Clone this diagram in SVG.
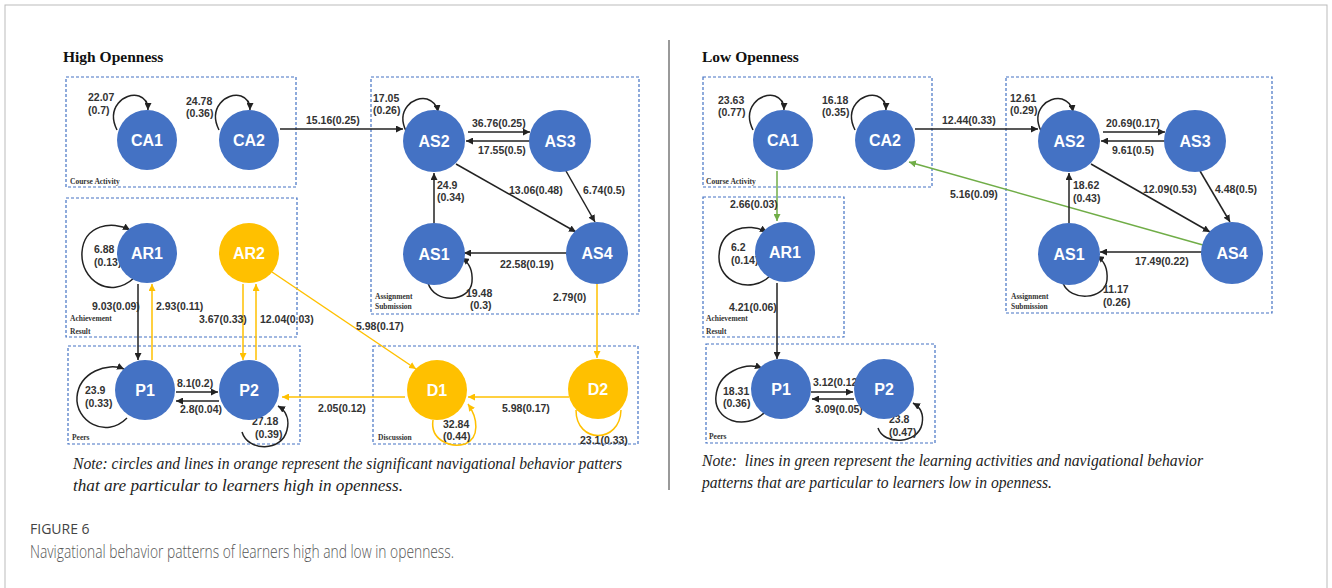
<svg xmlns="http://www.w3.org/2000/svg" width="1332" height="588" viewBox="0 0 1332 588">
<defs>
<marker id="ak" viewBox="0 0 8 8" refX="8" refY="4" markerWidth="7" markerHeight="7" markerUnits="userSpaceOnUse" orient="auto"><path d="M0,0 L8,4 L0,8 z" fill="#222"/></marker>
<marker id="ao" viewBox="0 0 8 8" refX="8" refY="4" markerWidth="7" markerHeight="7" markerUnits="userSpaceOnUse" orient="auto"><path d="M0,0 L8,4 L0,8 z" fill="#FFC000"/></marker>
<marker id="ag" viewBox="0 0 8 8" refX="8" refY="4" markerWidth="7" markerHeight="7" markerUnits="userSpaceOnUse" orient="auto"><path d="M0,0 L8,4 L0,8 z" fill="#70AD47"/></marker>
</defs>
<style>
.box{fill:none;stroke:#4472C4;stroke-width:1.2;stroke-dasharray:3,2}
.bl{fill:#4472C4}
.or{fill:#FFC000}
.nl{font-family:"Liberation Sans",Arial,sans-serif;font-size:16px;font-weight:bold;fill:#fff;text-anchor:middle}
.el{font-family:"Liberation Sans",Arial,sans-serif;font-size:10.5px;font-weight:bold;fill:#333}
.bx{font-family:"Liberation Serif","Times New Roman",serif;font-size:7.5px;font-weight:bold;fill:#333}
.ti{font-family:"Liberation Serif","Times New Roman",serif;font-size:15.5px;font-weight:bold;fill:#111}
.nt{font-family:"Liberation Serif","Times New Roman",serif;font-size:16px;font-style:italic;fill:#222;white-space:pre}
.k{fill:none;stroke:#222;stroke-width:1.5;marker-end:url(#ak)}
.o{fill:none;stroke:#FFC000;stroke-width:1.5;marker-end:url(#ao)}
.g{fill:none;stroke:#70AD47;stroke-width:1.5;marker-end:url(#ag)}
</style>
<rect x="5" y="5" width="1322" height="600" fill="#fff" stroke="#bbb" stroke-width="1"/>
<line x1="669" y1="40" x2="669" y2="490" stroke="#999" stroke-width="2"/>

<!-- LEFT PANEL -->
<text class="ti" x="63" y="62">High Openness</text>
<g id="L-boxes">
<rect class="box" x="66" y="77" width="230" height="110"/>
<text class="bx" x="70" y="184">Course Activity</text>
<rect class="box" x="371" y="77" width="268" height="237"/>
<text class="bx" x="375" y="299">Assignment</text>
<text class="bx" x="375" y="309">Submission</text>
<rect class="box" x="66" y="198" width="231" height="139"/>
<text class="bx" x="70" y="321">Achievement</text>
<text class="bx" x="70" y="334">Result</text>
<rect class="box" x="68" y="346" width="232" height="98"/>
<text class="bx" x="72" y="440">Peers</text>
<rect class="box" x="373" y="346" width="265" height="98"/>
<text class="bx" x="378" y="440">Discussion</text>
</g>

<g id="L-connectors">
<path class="k" d="M117,130 C106,108 124,92 139,96 C145,98 148,103 148,110"/>
<path class="k" d="M219,130 C208,108 226,92 241,96 C247,98 250,103 250,110"/>
<path class="k" d="M406,131 C396,110 413,96 427,99 C433,101 437,105 438,112"/>
<path class="k" d="M134,278 C110,300 80,280 82,252 C84,225 112,220 130,230"/>
<path class="k" d="M428,283 C435,305 470,302 472,282 C473,270 468,262 462,258"/>
<path class="k" d="M127,418 C105,440 75,420 77,397 C79,372 108,362 124,369"/>
<path class="k" d="M242,432 C248,452 282,452 287,430 C290,418 285,410 278,406"/>
<path class="o" d="M433,420 C430,440 450,448 465,444 C480,438 478,418 468,404"/>
<path fill="none" stroke="#FFC000" stroke-width="1.5" d="M576,410 C576,444 620,444 621,410"/>
<path class="k" d="M280,129 L403,129"/>
<path class="k" d="M468,132 L530,132"/>
<path class="k" d="M530,141 L466,141"/>
<path class="k" d="M434,223 L434,173"/>
<path class="k" d="M456,164 L576,232"/>
<path class="k" d="M566,171 L595,222"/>
<path class="k" d="M567,253 L464,253"/>
<path class="o" d="M597,284 L597,358"/>
<path class="k" d="M138,284 L138,360"/>
<path class="o" d="M152,360 L152,284"/>
<path class="o" d="M243,284 L243,360"/>
<path class="o" d="M256,360 L256,284"/>
<path class="o" d="M272,272 L416,369"/>
<path class="k" d="M176,392 L218,392"/>
<path class="k" d="M219,401 L176,401"/>
<path class="o" d="M405,397 L282,397"/>
<path class="o" d="M569,397 L468,397"/>
</g>

<g id="L-labels">
<text class="el" x="88" y="101">22.07</text><text class="el" x="88" y="114">(0.7)</text>
<text class="el" x="186" y="105">24.78</text><text class="el" x="186" y="117">(0.36)</text>
<text class="el" x="306" y="124">15.16(0.25)</text>
<text class="el" x="373" y="102">17.05</text><text class="el" x="373" y="114">(0.26)</text>
<text class="el" x="472" y="127">36.76(0.25)</text>
<text class="el" x="478" y="154">17.55(0.5)</text>
<text class="el" x="437" y="189">24.9</text><text class="el" x="437" y="201">(0.34)</text>
<text class="el" x="509" y="194">13.06(0.48)</text>
<text class="el" x="583" y="194">6.74(0.5)</text>
<text class="el" x="500" y="268">22.58(0.19)</text>
<text class="el" x="466" y="297">19.48</text><text class="el" x="470" y="309">(0.3)</text>
<text class="el" x="553" y="301">2.79(0)</text>
<text class="el" x="94" y="253">6.88</text><text class="el" x="94" y="266">(0.13)</text>
<text class="el" x="92" y="310">9.03(0.09)</text>
<text class="el" x="156" y="310">2.93(0.11)</text>
<text class="el" x="199" y="323">3.67(0.33)</text>
<text class="el" x="260" y="323">12.04(0.03)</text>
<text class="el" x="356" y="330">5.98(0.17)</text>
<text class="el" x="177" y="387">8.1(0.2)</text>
<text class="el" x="180" y="413">2.8(0.04)</text>
<text class="el" x="85" y="394">23.9</text><text class="el" x="85" y="407">(0.33)</text>
<text class="el" x="252" y="425">27.18</text><text class="el" x="255" y="438">(0.39)</text>
<text class="el" x="318" y="412">2.05(0.12)</text>
<text class="el" x="502" y="412">5.98(0.17)</text>
<text class="el" x="443" y="428">32.84</text><text class="el" x="443" y="440">(0.44)</text>
<text class="el" x="580" y="444">23.1(0.33)</text>
</g>

<g id="L-CA1"><circle class="bl" cx="147" cy="140" r="30"/><text class="nl" x="147" y="146">CA1</text></g>
<g id="L-CA2"><circle class="bl" cx="249" cy="140" r="30"/><text class="nl" x="249" y="146">CA2</text></g>
<g id="L-AS2"><circle class="bl" cx="434" cy="141" r="31"/><text class="nl" x="434" y="147">AS2</text></g>
<g id="L-AS3"><circle class="bl" cx="560" cy="141" r="31"/><text class="nl" x="560" y="147">AS3</text></g>
<g id="L-AS1"><circle class="bl" cx="434" cy="254" r="31"/><text class="nl" x="434" y="260">AS1</text></g>
<g id="L-AS4"><circle class="bl" cx="597" cy="253" r="31"/><text class="nl" x="597" y="259">AS4</text></g>
<g id="L-AR1"><circle class="bl" cx="147" cy="253" r="30"/><text class="nl" x="147" y="259">AR1</text></g>
<g id="L-AR2"><circle class="or" cx="249" cy="253" r="30"/><text class="nl" x="249" y="259">AR2</text></g>
<g id="L-P1"><circle class="bl" cx="145" cy="390" r="30"/><text class="nl" x="145" y="396">P1</text></g>
<g id="L-P2"><circle class="bl" cx="249" cy="390" r="30"/><text class="nl" x="249" y="396">P2</text></g>
<g id="L-D1"><circle class="or" cx="437" cy="390" r="30"/><text class="nl" x="437" y="396">D1</text></g>
<g id="L-D2"><circle class="or" cx="598" cy="389" r="30"/><text class="nl" x="598" y="395">D2</text></g>

<text class="nt" x="73" y="469" textLength="549" lengthAdjust="spacingAndGlyphs">Note: circles and lines in orange represent the significant navigational behavior patters</text>
<text class="nt" x="73" y="491" textLength="330" lengthAdjust="spacingAndGlyphs">that are particular to learners high in openness.</text>

<!-- RIGHT PANEL -->
<text class="ti" x="702" y="62">Low Openness</text>
<g id="R-boxes">
<rect class="box" x="703" y="77" width="229" height="110"/>
<text class="bx" x="706" y="184">Course Activity</text>
<rect class="box" x="1006" y="77" width="266" height="236"/>
<text class="bx" x="1011" y="299">Assignment</text>
<text class="bx" x="1011" y="309">Submission</text>
<rect class="box" x="703" y="197" width="141" height="140"/>
<text class="bx" x="706" y="321">Achievement</text>
<text class="bx" x="706" y="334">Result</text>
<rect class="box" x="706" y="344" width="229" height="99"/>
<text class="bx" x="709" y="439">Peers</text>
</g>

<g id="R-connectors">
<path class="k" d="M753,130 C742,108 760,92 775,96 C781,98 784,103 784,110"/>
<path class="k" d="M855,130 C844,108 862,92 877,96 C883,98 886,103 886,110"/>
<path class="k" d="M1041,131 C1031,110 1048,96 1062,99 C1068,101 1072,105 1073,112"/>
<path class="k" d="M770,276 C750,295 718,282 719,256 C720,228 748,222 767,232"/>
<path class="k" d="M1063,283 C1070,302 1105,300 1107,280 C1108,268 1103,260 1097,256"/>
<path class="k" d="M765,412 C745,432 713,420 716,396 C718,372 745,362 762,368"/>
<path class="k" d="M878,428 C884,446 918,444 922,424 C924,414 920,407 913,403"/>
<path class="k" d="M915,129 L1038,129"/>
<path class="g" d="M777,171 L777,221"/>
<path class="g" d="M1203,245 L909,162"/>
<path class="k" d="M1103,132 L1165,132"/>
<path class="k" d="M1165,141 L1101,141"/>
<path class="k" d="M1069,223 L1069,173"/>
<path class="k" d="M1091,164 L1210,232"/>
<path class="k" d="M1200,171 L1230,222"/>
<path class="k" d="M1202,252 L1100,252"/>
<path class="k" d="M777,283 L777,359"/>
<path class="k" d="M811,392 L853,392"/>
<path class="k" d="M854,399 L812,399"/>
</g>

<g id="R-labels">
<text class="el" x="718" y="104">23.63</text><text class="el" x="718" y="116">(0.77)</text>
<text class="el" x="822" y="104">16.18</text><text class="el" x="822" y="116">(0.35)</text>
<text class="el" x="942" y="124">12.44(0.33)</text>
<text class="el" x="730" y="208">2.66(0.03)</text>
<text class="el" x="950" y="198">5.16(0.09)</text>
<text class="el" x="1010" y="102">12.61</text><text class="el" x="1010" y="114">(0.29)</text>
<text class="el" x="1106" y="127">20.69(0.17)</text>
<text class="el" x="1112" y="154">9.61(0.5)</text>
<text class="el" x="1073" y="189">18.62</text><text class="el" x="1073" y="202">(0.43)</text>
<text class="el" x="1143" y="193">12.09(0.53)</text>
<text class="el" x="1215" y="193">4.48(0.5)</text>
<text class="el" x="1135" y="265">17.49(0.22)</text>
<text class="el" x="1103" y="293">11.17</text><text class="el" x="1103" y="306">(0.26)</text>
<text class="el" x="731" y="251">6.2</text><text class="el" x="731" y="264">(0.14)</text>
<text class="el" x="729" y="311">4.21(0.06)</text>
<text class="el" x="813" y="386">3.12(0.12)</text>
<text class="el" x="815" y="413">3.09(0.05)</text>
<text class="el" x="723" y="395">18.31</text><text class="el" x="723" y="407">(0.36)</text>
<text class="el" x="889" y="423">23.8</text><text class="el" x="889" y="436">(0.47)</text>
</g>

<g id="R-CA1"><circle class="bl" cx="783" cy="140" r="30"/><text class="nl" x="783" y="146">CA1</text></g>
<g id="R-CA2"><circle class="bl" cx="885" cy="140" r="30"/><text class="nl" x="885" y="146">CA2</text></g>
<g id="R-AS2"><circle class="bl" cx="1069" cy="141" r="31"/><text class="nl" x="1069" y="147">AS2</text></g>
<g id="R-AS3"><circle class="bl" cx="1195" cy="141" r="31"/><text class="nl" x="1195" y="147">AS3</text></g>
<g id="R-AS1"><circle class="bl" cx="1069" cy="254" r="31"/><text class="nl" x="1069" y="260">AS1</text></g>
<g id="R-AS4"><circle class="bl" cx="1232" cy="253" r="31"/><text class="nl" x="1232" y="259">AS4</text></g>
<g id="R-AR1"><circle class="bl" cx="785" cy="252" r="30"/><text class="nl" x="785" y="258">AR1</text></g>
<g id="R-P1"><circle class="bl" cx="781" cy="389" r="30"/><text class="nl" x="781" y="395">P1</text></g>
<g id="R-P2"><circle class="bl" cx="884" cy="389" r="30"/><text class="nl" x="884" y="395">P2</text></g>

<text class="nt" x="702" y="466" textLength="501" lengthAdjust="spacingAndGlyphs">Note:  lines in green represent the learning activities and navigational behavior</text>
<text class="nt" x="702" y="488" textLength="350" lengthAdjust="spacingAndGlyphs">patterns that are particular to learners low in openness.</text>

<text x="30" y="534" font-family="'Open Sans','Noto Sans',sans-serif" font-size="14" fill="#444">FIGURE 6</text>
<text x="30" y="558" font-family="'Open Sans','Noto Sans',sans-serif" font-size="18.5" font-weight="300" fill="#555" textLength="424" lengthAdjust="spacingAndGlyphs">Navigational behavior patterns of learners high and low in openness.</text>
</svg>
